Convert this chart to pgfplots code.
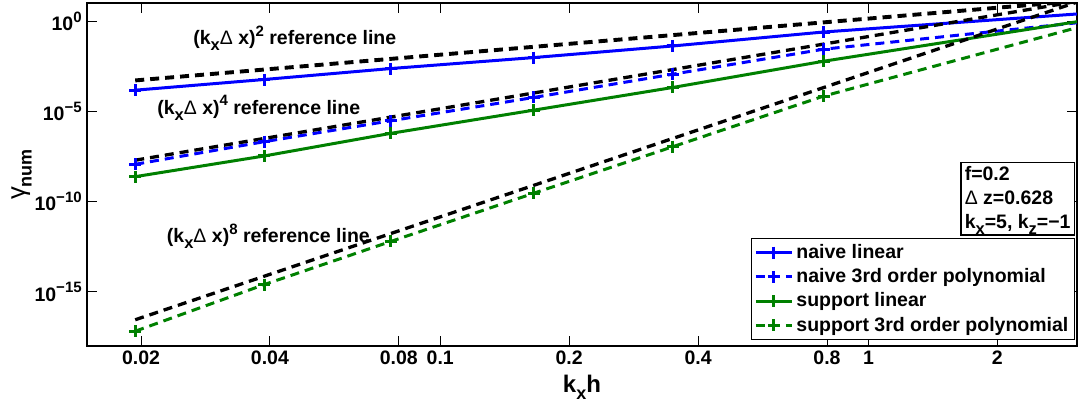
\documentclass[border=0pt]{standalone}
\usepackage{fontspec}
\setmainfont{Liberation Sans}
\usepackage{pgfplots}
\pgfplotsset{compat=1.18}
\definecolor{mblue}{RGB}{0,0,255}
\definecolor{mgreen}{RGB}{0,128,0}
\newcommand{\sbs}[1]{\raisebox{-4pt}{\fontsize{11}{11}\selectfont #1}}
\newcommand{\sbz}[1]{\raisebox{-4pt}[0pt][0pt]{\fontsize{11}{11}\selectfont #1}}
\newcommand{\sps}[1]{\raisebox{5.5pt}{\fontsize{10}{10}\selectfont #1}}
\begin{document}
\begin{tikzpicture}[font=\fontsize{13}{15}\selectfont\bfseries]
\begin{axis}[
  xmode=log, ymode=log,
  scale only axis, width=660pt, height=228.67pt,
  xmin=0.01496, xmax=3.069, ymin=1e-18, ymax=10,
  xtick={0.02,0.04,0.08,0.1,0.2,0.4,0.8,1,2},
  xticklabels={0.02,0.04,0.08,0.1,0.2,0.4,0.8,1,2},
  ytick={1e-15,1e-10,1e-5,1},
  yticklabels={10\sps{−15},10\sps{−10},10\sps{−5},10\sps{0}},
  minor xtick={}, minor ytick={},
  tick align=inside, major tick length=6.7pt,
  tick style={line width=0.6pt, black},
  axis line style={line width=1pt},
  tick label style={font=\fontsize{13}{15}\selectfont\bfseries},
  xlabel={k\raisebox{-4.5pt}{\fontsize{12}{12}\selectfont x}h}, ylabel={{\mdseries\fontsize{17}{17}\selectfont γ}\raisebox{-4.5pt}{\fontsize{12}{12}\selectfont num}},
  ylabel shift=-5pt,
  label style={font=\fontsize{16}{18}\selectfont\bfseries},
  legend style={at={(rel axis cs:0.998,0.0175)}, anchor=south east, draw=black, line width=0.8pt,
    font=\fontsize{13}{15}\selectfont\bfseries, inner sep=2pt, row sep=1.2pt, cells={anchor=west}},
  legend image code/.code={\draw[mark indices={2}] plot coordinates {(0pt,0pt) (12pt,0pt) (24pt,0pt)};},
]
\addplot[mblue, line width=2pt, mark=+, mark size=4pt, mark indices={1,2,3,4,5,6}, mark options={solid, line width=2pt}]
 coordinates {(0.01939,1.48e-4) (0.03878,5.78e-4) (0.07662,2.34e-3) (0.16535,9.5e-3) (0.34907,4.16e-2) (0.7854,0.247) (3.1416,2.56)};
\addlegendentry{naive linear}
\addplot[mblue, line width=2pt, dash pattern=on 6pt off 4pt, mark=+, mark size=4pt, mark indices={1,2,3,4,5,6}, mark options={solid, line width=2pt}]
 coordinates {(0.01939,1.16e-8) (0.03878,2.07e-7) (0.07662,2.99e-6) (0.16535,5.86e-5) (0.34907,1.135e-3) (0.7854,2.75e-2) (3.1416,0.85)};
\addlegendentry{naive 3rd order polynomial}
\addplot[mgreen, line width=2pt, mark=+, mark size=4pt, mark indices={1,2,3,4,5,6}, mark options={solid, line width=2pt}]
 coordinates {(0.01939,2.40e-9) (0.03878,3.35e-8) (0.07662,6.01e-7) (0.16535,1.16e-5) (0.34907,2.09e-4) (0.7854,5.93e-3) (3.1416,1.0)};
\addlegendentry{support linear}
\addplot[mgreen, line width=2pt, dash pattern=on 6pt off 4pt, mark=+, mark size=4pt, mark indices={1,2,3,4,5,6}, mark options={solid, line width=2pt}]
 coordinates {(0.01939,6.6e-18) (0.03878,2.51e-15) (0.07662,6.17e-13) (0.16535,2.91e-10) (0.34907,1.09e-7) (0.7854,6.92e-5) (3.1416,0.5)};
\addlegendentry{support 3rd order polynomial}
\addplot[black, line width=2.6pt, dash pattern=on 6pt off 4pt, forget plot] coordinates {(0.01939,5.14e-4) (3.1416,13.5)};
\addplot[black, line width=2.2pt, dash pattern=on 6pt off 4pt, forget plot] coordinates {(0.01939,1.96e-8) (3.1416,13.5)};
\addplot[black, line width=2.2pt, dash pattern=on 6pt off 4pt, forget plot] coordinates {(0.01939,2.84e-17) (3.1416,13.5)};
\node[anchor=base west, inner sep=0pt] at (axis cs:0.02646,0.0516) {(k\sbs{x}{\mdseries Δ} x)\sps{2} reference line};
\node[anchor=base west, inner sep=0pt] at (axis cs:0.02180,7.0e-6) {(k\sbs{x}{\mdseries Δ} x)\sps{4} reference line};
\node[anchor=base west, inner sep=0pt] at (axis cs:0.02296,5.2e-13) {(k\sbs{x}{\mdseries Δ} x)\sps{8} reference line};
\node[draw=black, line width=0.8pt, fill=white, anchor=north east, align=left, inner sep=2.5pt] at (axis cs:3.035,1.62e-8) {f=0.2\\[1pt]{\mdseries Δ} z=0.628\\[1pt]k\sbz{x}=5, k\sbz{z}=−1};
\end{axis}
\pgfresetboundingbox
\path[use as bounding box] ([xshift=-58pt,yshift=-44.67pt]current axis.south west) rectangle ([xshift=0.67pt,yshift=2pt]current axis.north east);
\end{tikzpicture}
\end{document}
